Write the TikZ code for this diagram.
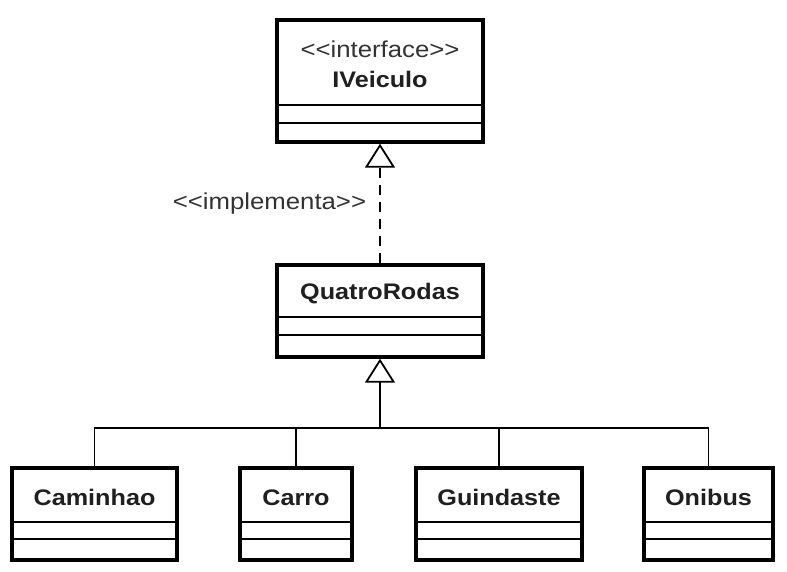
\documentclass[tikz,border=0pt]{standalone}
\usepackage{fontspec}
\setmainfont{Liberation Sans}[FakeStretch=1.12]
\usetikzlibrary{arrows.meta}
\begin{document}
\begin{tikzpicture}[x=1pt,y=-1pt,
  umlbox/.style={draw=black, line width=3.4pt, fill=white, rectangle, inner sep=0pt},
  divider/.style={line width=1.8pt},
  conn/.style={line width=1.8pt},
  gen/.style={conn, -{Triangle[open, length=24pt, width=30pt, line width=1.8pt]}},
  cname/.style={font=\fontsize{22.5}{26}\selectfont\bfseries, text=black!88, inner sep=0pt, anchor=center},
  stereo/.style={font=\fontsize{23}{26}\selectfont, text=black!80, inner sep=0pt}
]
\useasboundingbox (0,0) rectangle (787,572);
\fill[white] (0,0) rectangle (787,572);

% boxes
\node[umlbox, minimum width=206pt, minimum height=122pt] (iv) at (380,81) {};
\node[umlbox, minimum width=206pt, minimum height=92pt] (qr) at (380,311) {};
\node[umlbox, minimum width=165pt, minimum height=92pt] (cam) at (94.5,514) {};
\node[umlbox, minimum width=112pt, minimum height=92pt] (car) at (296,514) {};
\node[umlbox, minimum width=166pt, minimum height=92pt] (gui) at (499,514) {};
\node[umlbox, minimum width=129pt, minimum height=92pt] (oni) at (708.5,514) {};

% dividers
\foreach \b/\a/\c in {iv/39/21, qr/42/24, cam/40/23, car/40/23, gui/40/23, oni/40/23}{
  \draw[divider] ([yshift=\a pt]\b.south west) -- ([yshift=\a pt]\b.south east);
  \draw[divider] ([yshift=\c pt]\b.south west) -- ([yshift=\c pt]\b.south east);
}

% texts
\node[stereo, anchor=center] (ivst) at ([yshift=-31pt]iv.north) {<\kern0pt<interface>\kern0pt>};
\node[cname] (ivn) at ([yshift=-61pt]iv.north) {IVeiculo};
\node[cname] (qrn) at ([yshift=-30pt]qr.north) {QuatroRodas};
\node[cname] (camn) at ([yshift=-31pt]cam.north) {Caminhao};
\node[cname] (carn) at ([yshift=-31pt]car.north) {Carro};
\node[cname] (guin) at ([yshift=-31pt]gui.north) {Guindaste};
\node[cname] (onin) at ([yshift=-31pt]oni.north) {Onibus};

% realization
\draw[gen, dash pattern=on 10pt off 7pt] (qr.north) -- (iv.south)
  node[stereo, pos=0.5, left=13pt] (impl) {<\kern0pt<implementa>\kern0pt>};

% generalization tree
\coordinate (bus) at (380,428);
\draw[gen] (bus) -- (qr.south);
\draw[conn] (cam.north) |- (bus) -| (oni.north);
\draw[conn] (car.north) -- (car.north |- bus);
\draw[conn] (gui.north) -- (gui.north |- bus);
\end{tikzpicture}
\end{document}
